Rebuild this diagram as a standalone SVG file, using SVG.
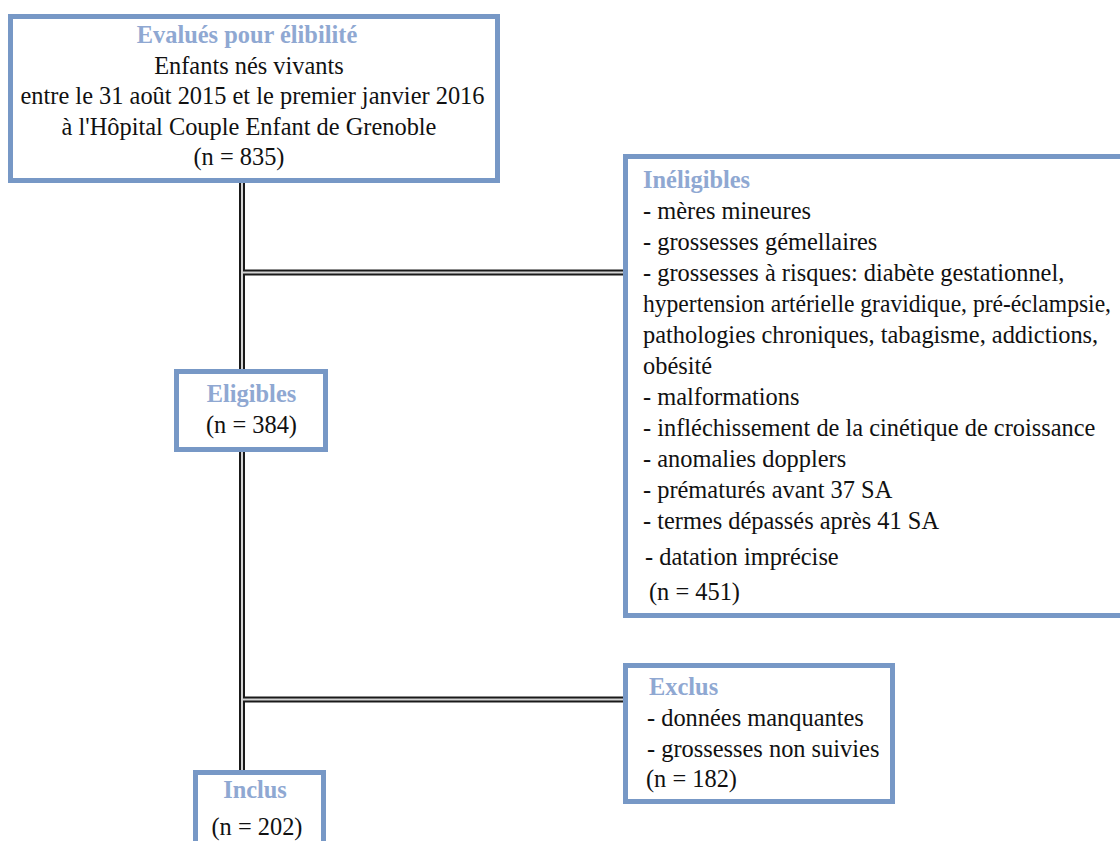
<svg xmlns="http://www.w3.org/2000/svg" width="1120" height="841" viewBox="0 0 1120 841">
<style>
.box{fill:#fff;stroke:#7798c6;stroke-width:5}
text{font-family:"Liberation Serif","Times New Roman",serif;font-size:24.4px;font-weight:400;fill:#111}
.t{font-weight:700;fill:#8fa8d2}
.c{text-anchor:middle}
.lo{stroke:#1a1a1a;stroke-width:6;fill:none}
.li{stroke:#d4d4d4;stroke-width:2;fill:none}
</style>
<rect width="1120" height="841" fill="#fff"/>
<g id="connectors">
<path class="lo" d="M242,182V369M242,452V770M242,272.5H623M242,699.5H623"/>
<path class="li" d="M242,182V369M242,452V770M243,272.5H623M243,699.5H623"/>
</g>
<g id="evalues">
<rect class="box" x="10.5" y="16.5" width="487" height="164"/>
<text class="t c" x="247" y="43">Evalués pour élibilité</text>
<text class="c" x="249" y="73.5">Enfants nés vivants</text>
<text class="c" x="252.5" y="104">entre le 31 août 2015 et le premier janvier 2016</text>
<text class="c" x="249" y="134.5">à l'Hôpital Couple Enfant de Grenoble</text>
<text class="c" x="239" y="165">(n = 835)</text>
</g>
<g id="ineligibles">
<rect class="box" x="625.5" y="156.5" width="500" height="459"/>
<text class="t" x="643" y="188">Inéligibles</text>
<text x="643" y="219">- mères mineures</text>
<text x="643" y="250">- grossesses gémellaires</text>
<text x="643" y="281">- grossesses à risques: diabète gestationnel,</text>
<text x="643" y="312" textLength="468" lengthAdjust="spacingAndGlyphs">hypertension artérielle gravidique, pré-éclampsie,</text>
<text x="643" y="343">pathologies chroniques, tabagisme, addictions,</text>
<text x="643" y="374">obésité</text>
<text x="643" y="405">- malformations</text>
<text x="643" y="436">- infléchissement de la cinétique de croissance</text>
<text x="643" y="467">- anomalies dopplers</text>
<text x="643" y="498">- prématurés avant 37 SA</text>
<text x="643" y="529">- termes dépassés après 41 SA</text>
<text x="645" y="565">- datation imprécise</text>
<text x="649" y="600">(n = 451)</text>
</g>
<g id="eligibles">
<rect class="box" x="176.5" y="371.5" width="149" height="78"/>
<text class="t c" x="251.5" y="402">Eligibles</text>
<text class="c" x="251.5" y="433">(n = 384)</text>
</g>
<g id="exclus">
<rect class="box" x="625.5" y="665.5" width="267" height="136"/>
<text class="t" x="649" y="695">Exclus</text>
<text x="647" y="726">- données manquantes</text>
<text x="647" y="757">- grossesses non suivies</text>
<text x="646" y="787">(n = 182)</text>
</g>
<g id="inclus">
<rect class="box" x="195.5" y="772.5" width="128" height="100"/>
<text class="t c" x="255" y="798">Inclus</text>
<text class="c" x="257" y="835">(n = 202)</text>
</g>
</svg>
